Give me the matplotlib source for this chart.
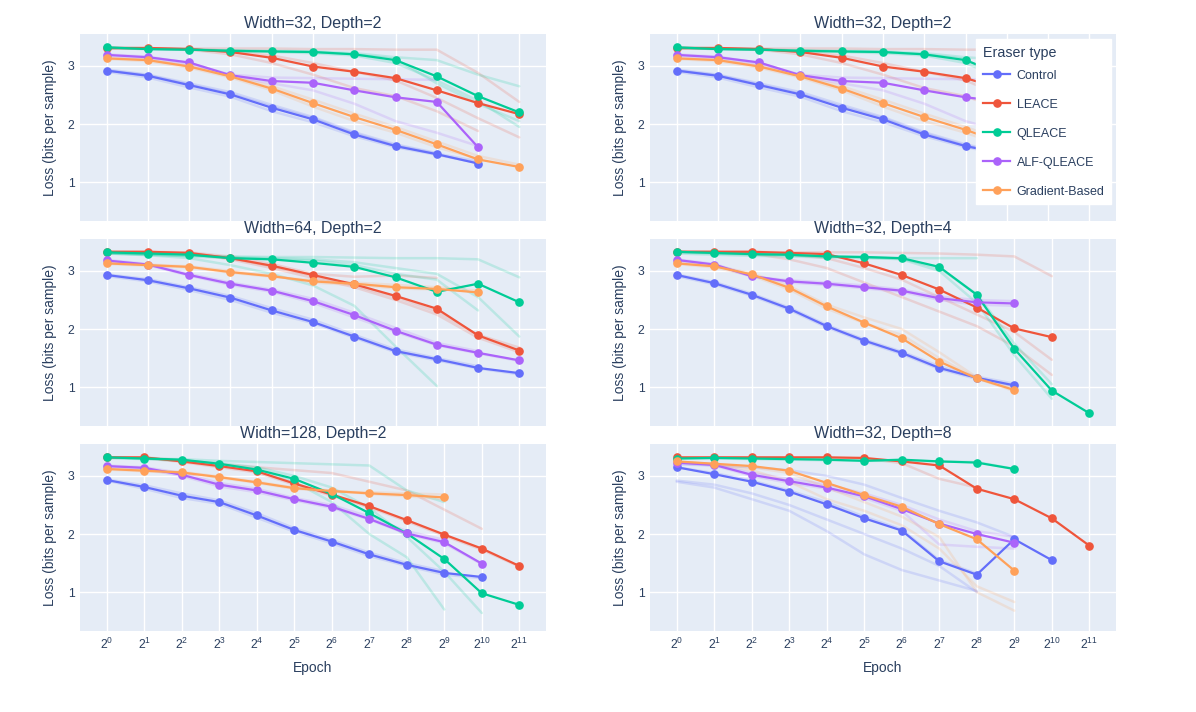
import numpy as np
import matplotlib
matplotlib.use("Agg")
import matplotlib.pyplot as plt
from matplotlib.lines import Line2D

plt.rcParams['font.family'] = ['Liberation Sans', 'DejaVu Sans']
plt.rcParams['mathtext.fontset'] = 'custom'
plt.rcParams['mathtext.rm'] = 'Liberation Sans'

# eraser types and plotly default colours
eraser_types = ['Control', 'LEACE', 'QLEACE', 'ALF-QLEACE', 'Gradient-Based']
colors = ['#636efa', '#EF553B', '#00cc96', '#ab63fa', '#FFA15A']

# ---- panel A: Width=32, Depth=2 (mean curves, index = log2 epoch) ----
a_control = [2.92, 2.83, 2.67, 2.51, 2.28, 2.08, 1.82, 1.62, 1.48, 1.32]
a_leace = [3.31, 3.31, 3.29, 3.24, 3.14, 2.99, 2.90, 2.79, 2.58, 2.36, 2.17]
a_qleace = [3.32, 3.29, 3.28, 3.26, 3.25, 3.24, 3.20, 3.10, 2.82, 2.48, 2.20]
a_alf = [3.19, 3.15, 3.06, 2.84, 2.74, 2.71, 2.58, 2.46, 2.38, 1.60]
a_grad = [3.13, 3.10, 2.99, 2.82, 2.61, 2.36, 2.12, 1.90, 1.65, 1.39, 1.26]
# individual runs (faint)
a_control_runs = [[2.90, 2.80, 2.63, 2.47, 2.22, 2.03, 1.79, 1.60, 1.47, 1.33],
                  [2.94, 2.85, 2.70, 2.55, 2.33, 2.12, 1.86, 1.65, 1.50],
                  [2.92, 2.84, 2.68, 2.52, 2.30, 2.10, 1.84, 1.63, 1.49, 1.36]]
a_leace_runs = [[3.30, 3.30, 3.30, 3.30, 3.30, 3.29, 3.29, 3.28, 3.28, 2.88, 2.38],
                [3.30, 3.30, 3.29, 3.25, 3.18, 3.05, 2.90, 2.75, 2.45, 2.10, 1.77],
                [3.31, 3.30, 3.28, 3.20, 3.05, 2.85, 2.62, 2.48, 2.22, 1.88]]
a_qleace_runs = [[3.31, 3.29, 3.28, 3.27, 3.26, 3.25, 3.22, 3.15, 3.10, 2.85, 2.65],
                 [3.32, 3.30, 3.29, 3.26, 3.24, 3.22, 3.18, 3.05, 2.75, 2.40, 1.95],
                 [3.31, 3.29, 3.28, 3.26, 3.25, 3.24, 3.20, 3.12, 2.70, 2.35, 2.05]]
a_alf_runs = [[3.20, 3.16, 3.05, 2.85, 2.80, 2.79, 2.78, 2.77, 2.76],
              [3.18, 3.12, 3.02, 2.82, 2.70, 2.58, 2.35, 2.05, 1.85, 1.62]]
a_grad_runs = [[3.12, 3.08, 2.97, 2.80, 2.58, 2.30, 2.05, 1.85, 1.60, 1.40],
               [3.14, 3.11, 3.00, 2.84, 2.65, 2.42, 2.18, 1.95, 1.70, 1.45, 1.30]]

# ---- panel B: Width=64, Depth=2 ----
b_control = [2.93, 2.84, 2.70, 2.54, 2.32, 2.12, 1.87, 1.62, 1.48, 1.33, 1.24]
b_leace = [3.33, 3.33, 3.31, 3.22, 3.09, 2.93, 2.77, 2.57, 2.35, 1.89, 1.63]
b_qleace = [3.32, 3.30, 3.28, 3.22, 3.20, 3.14, 3.07, 2.89, 2.64, 2.78, 2.46]
b_alf = [3.18, 3.11, 2.93, 2.78, 2.66, 2.48, 2.24, 1.97, 1.73, 1.59, 1.46]
b_grad = [3.13, 3.10, 3.07, 2.98, 2.91, 2.82, 2.78, 2.72, 2.69, 2.63]
b_control_runs = [[2.91, 2.82, 2.67, 2.50, 2.28, 2.10, 1.85, 1.60, 1.46, 1.32, 1.22],
                  [2.94, 2.86, 2.72, 2.57, 2.36, 2.16, 1.90, 1.65, 1.50, 1.36]]
b_leace_runs = [[3.33, 3.33, 3.32, 3.25, 3.12, 2.95, 2.90, 2.92, 2.88],
                [3.32, 3.32, 3.30, 3.20, 3.05, 2.88, 2.72, 2.50, 2.25, 1.85, 1.60],
                [3.33, 3.32, 3.31, 3.22, 3.08, 2.92, 2.75, 2.55, 2.30, 1.90, 1.68]]
b_qleace_runs = [[3.30, 3.28, 3.26, 3.25, 3.24, 3.24, 3.23, 3.22, 3.22, 3.20, 2.89],
                 [3.31, 3.29, 3.27, 3.24, 3.22, 3.20, 3.15, 3.05, 2.95, 2.55, 1.87],
                 [3.30, 3.27, 3.22, 3.10, 2.95, 2.75, 2.40, 1.70, 1.02],
                 [3.31, 3.28, 3.25, 3.22, 3.20, 3.18, 3.10, 2.95, 2.85, 2.32]]
b_alf_runs = [[3.16, 3.10, 2.92, 2.76, 2.64, 2.45, 2.20, 1.95, 1.72, 1.58, 1.45],
              [3.19, 3.12, 2.95, 2.80, 2.68, 2.52, 2.28, 2.02, 1.76, 1.62]]
b_grad_runs = [[3.12, 3.09, 3.06, 2.97, 2.90, 2.84, 2.80, 2.76, 2.72, 2.66],
               [3.14, 3.11, 3.08, 3.00, 2.92, 2.80, 2.76, 2.70, 2.68]]

# ---- panel C: Width=32, Depth=4 ----
c_control = [2.93, 2.79, 2.59, 2.35, 2.05, 1.80, 1.59, 1.33, 1.16, 1.03]
c_leace = [3.33, 3.33, 3.33, 3.31, 3.29, 3.13, 2.93, 2.68, 2.37, 2.01, 1.86]
c_qleace = [3.33, 3.31, 3.29, 3.28, 3.25, 3.24, 3.22, 3.07, 2.59, 1.66, 0.94, 0.55]
c_alf = [3.19, 3.11, 2.91, 2.82, 2.78, 2.72, 2.66, 2.53, 2.46, 2.44]
c_grad = [3.13, 3.08, 2.94, 2.71, 2.39, 2.11, 1.84, 1.44, 1.15, 0.95]
c_control_runs = [[2.91, 2.77, 2.57, 2.33, 2.03, 1.78, 1.57, 1.31, 1.14, 1.02],
                  [2.94, 2.81, 2.61, 2.37, 2.07, 1.82, 1.61, 1.36, 1.18, 1.06]]
c_leace_runs = [[3.33, 3.33, 3.33, 3.32, 3.32, 3.32, 3.31, 3.30, 3.28, 3.25, 2.91],
                [3.33, 3.32, 3.31, 3.28, 3.22, 3.05, 2.85, 2.55, 2.25, 1.95, 1.47],
                [3.33, 3.33, 3.30, 3.20, 3.05, 2.80, 2.55, 2.30, 2.05, 1.70, 1.21]]
c_qleace_runs = [[3.30, 3.28, 3.26, 3.25, 3.23, 3.22, 3.22, 3.22, 3.22],
                 [3.32, 3.30, 3.28, 3.27, 3.25, 3.23, 3.20, 3.00, 2.45, 1.55, 0.80],
                 [3.33, 3.31, 3.29, 3.27, 3.25, 3.24, 3.21, 3.05, 2.60, 1.75, 1.05]]
c_alf_runs = [[3.18, 3.10, 2.90, 2.84, 2.80, 2.75, 2.68, 2.56, 2.50, 2.48],
              [3.20, 3.12, 2.92, 2.80, 2.76, 2.70, 2.64, 2.50, 2.42, 2.40]]
c_grad_runs = [[3.12, 3.06, 2.92, 2.68, 2.35, 2.10, 1.90, 1.50, 1.15, 0.93],
               [3.14, 3.09, 2.96, 2.74, 2.42, 2.20, 2.00, 1.60, 1.17, 0.98]]

# ---- panel D: Width=128, Depth=2 ----
d_control = [2.93, 2.81, 2.66, 2.55, 2.32, 2.07, 1.87, 1.65, 1.47, 1.33, 1.26]
d_leace = [3.32, 3.32, 3.25, 3.17, 3.08, 2.87, 2.68, 2.48, 2.24, 1.99, 1.75, 1.45]
d_qleace = [3.32, 3.30, 3.28, 3.21, 3.11, 2.95, 2.69, 2.36, 2.01, 1.57, 0.98, 0.78]
d_alf = [3.17, 3.14, 3.02, 2.85, 2.75, 2.60, 2.47, 2.26, 2.01, 1.86, 1.49]
d_grad = [3.12, 3.09, 3.06, 2.98, 2.89, 2.79, 2.74, 2.70, 2.67, 2.63]
d_control_runs = [[2.92, 2.78, 2.62, 2.52, 2.28, 2.04, 1.84, 1.62, 1.45, 1.30, 1.24],
                  [2.94, 2.84, 2.70, 2.58, 2.36, 2.10, 1.90, 1.68, 1.50, 1.36]]
d_leace_runs = [[3.32, 3.32, 3.27, 3.20, 3.15, 3.10, 3.05, 2.90, 2.75, 2.42, 2.09],
                [3.32, 3.31, 3.24, 3.15, 3.06, 2.85, 2.66, 2.46, 2.22, 1.97, 1.73, 1.44]]
d_qleace_runs = [[3.31, 3.30, 3.29, 3.26, 3.24, 3.22, 3.20, 3.18, 2.75, 2.55],
                 [3.32, 3.30, 3.27, 3.20, 3.10, 2.90, 2.55, 2.00, 1.60, 0.70],
                 [3.31, 3.29, 3.26, 3.22, 3.15, 3.00, 2.80, 2.45, 1.95, 1.35, 0.64]]
d_alf_runs = [[3.16, 3.12, 3.00, 2.82, 2.72, 2.58, 2.45, 2.25, 2.00, 1.84, 1.48],
              [3.18, 3.15, 3.05, 2.88, 2.78, 2.62, 2.50, 2.30, 2.05, 1.90]]
d_grad_runs = [[3.11, 3.08, 3.05, 2.97, 2.88, 2.78, 2.73, 2.72, 2.70, 2.68],
               [3.13, 3.10, 3.07, 2.99, 2.90, 2.80, 2.75, 2.69, 2.65, 2.60]]

# ---- panel E: Width=32, Depth=8 ----
e_control = [3.15, 3.03, 2.90, 2.73, 2.51, 2.27, 2.06, 1.53, 1.30, 1.91, 1.55]
e_leace = [3.32, 3.32, 3.32, 3.32, 3.32, 3.31, 3.25, 3.18, 2.78, 2.60, 2.27, 1.80]
e_qleace = [3.30, 3.31, 3.30, 3.29, 3.28, 3.26, 3.28, 3.25, 3.23, 3.12]
e_alf = [3.23, 3.19, 3.02, 2.91, 2.80, 2.65, 2.43, 2.18, 2.00, 1.85]
e_grad = [3.25, 3.21, 3.17, 3.09, 2.88, 2.67, 2.47, 2.17, 1.91, 1.37]
e_control_runs = [[2.92, 2.85, 2.70, 2.50, 2.25, 2.00, 1.75, 1.45, 1.00],
                  [2.90, 2.80, 2.60, 2.40, 2.05, 1.65, 1.38, 1.20, 1.02],
                  [3.15, 3.05, 2.92, 2.75, 2.55, 2.30, 2.08, 1.55, 1.32],
                  [3.20, 3.18, 3.15, 3.10, 3.00, 2.85, 2.62, 2.40, 2.20, 1.95]]
e_leace_runs = [[3.32, 3.32, 3.32, 3.31, 3.31, 3.30, 3.22, 2.95, 2.80]]
e_qleace_runs = [[3.30, 3.30, 3.29, 3.28, 3.27, 3.26, 3.26, 3.25, 3.24, 3.12]]
e_alf_runs = [[3.22, 3.18, 3.00, 2.88, 2.78, 2.62, 2.40, 1.82, 1.78, 1.75],
              [3.24, 3.20, 3.05, 2.95, 2.85, 2.70, 2.50, 2.25, 2.05, 1.95]]
e_grad_runs = [[3.25, 3.20, 3.10, 2.90, 2.60, 2.40, 2.15, 1.75, 1.10, 0.83],
               [3.24, 3.20, 3.15, 3.05, 2.80, 2.55, 2.30, 1.95, 1.00, 0.68]]

panel_a = ([a_control, a_leace, a_qleace, a_alf, a_grad],
           [a_control_runs, a_leace_runs, a_qleace_runs, a_alf_runs, a_grad_runs])
panel_b = ([b_control, b_leace, b_qleace, b_alf, b_grad],
           [b_control_runs, b_leace_runs, b_qleace_runs, b_alf_runs, b_grad_runs])
panel_c = ([c_control, c_leace, c_qleace, c_alf, c_grad],
           [c_control_runs, c_leace_runs, c_qleace_runs, c_alf_runs, c_grad_runs])
panel_d = ([d_control, d_leace, d_qleace, d_alf, d_grad],
           [d_control_runs, d_leace_runs, d_qleace_runs, d_alf_runs, d_grad_runs])
panel_e = ([e_control, e_leace, e_qleace, e_alf, e_grad],
           [e_control_runs, e_leace_runs, e_qleace_runs, e_alf_runs, e_grad_runs])

titles = ['Width=32, Depth=2', 'Width=32, Depth=2',
          'Width=64, Depth=2', 'Width=32, Depth=4',
          'Width=128, Depth=2', 'Width=32, Depth=8']
panels = [panel_a, panel_a, panel_b, panel_c, panel_d, panel_e]

text_color = '#2a3f5f'
fig = plt.figure(figsize=(11.96, 7.12), dpi=100)
W, H = 1196, 712
col_x = [80, 650]
row_top = [34, 239, 444]
ax_w, ax_h = 466, 187

for k in range(6):
    r, c = k // 2, k % 2
    ax = fig.add_axes([col_x[c] / W, 1 - (row_top[r] + ax_h) / H, ax_w / W, ax_h / H])
    ax.set_facecolor('#E5ECF6')
    means, runs = panels[k]
    n_max = max(len(m) for m in means)
    # faint individual runs first
    for ci, group in enumerate(runs):
        for run in group:
            ep = 2.0 ** np.arange(len(run))
            ax.plot(ep, run, color=colors[ci], lw=1.8, alpha=0.18, zorder=2,
                    solid_capstyle='round')
    for ci, m in enumerate(means):
        ep = 2.0 ** np.arange(len(m))
        ax.plot(ep, m, color=colors[ci], lw=1.6, marker='o', ms=5.2, zorder=3 + ci)
    ax.set_xscale('log', base=2)
    ax.margins(x=0.0647)
    ax.set_ylim(0.33, 3.55)
    ticks = 2.0 ** np.arange(n_max)
    ax.set_xticks(ticks)
    ax.minorticks_off()
    ax.set_yticks([1, 2, 3])
    if r == 2:
        ax.set_xticklabels([r'$\mathdefault{2^{%d}}$' % i for i in range(n_max)])
        ax.set_xlabel('Epoch', fontsize=10, color=text_color, labelpad=7)
    else:
        ax.set_xticklabels([])
    ax.grid(True, color='white', lw=1)
    ax.set_axisbelow(True)
    for s in ax.spines.values():
        s.set_visible(False)
    ax.tick_params(length=0, labelsize=8.8, colors=text_color, pad=4)
    ax.set_ylabel('Loss (bits per sample)', fontsize=10, color=text_color)
    ax.yaxis.set_label_coords(-0.05, 0.5)
    ax.set_title(titles[k], fontsize=11.5, color=text_color, pad=4)
    if k == 1:
        handles = [Line2D([], [], color=col, lw=1.6, marker='o', ms=5.2) for col in colors]
        leg = ax.legend(handles, eraser_types, title='Eraser type', loc='upper left',
                        bbox_to_anchor=((976 - 650) / ax_w, 1 - (39 - 34) / ax_h),
                        fontsize=9, title_fontsize=10.3, frameon=True, fancybox=False,
                        edgecolor='white', facecolor='white', framealpha=1,
                        labelspacing=1.36, handlelength=2.2, handletextpad=0.5,
                        borderaxespad=0, borderpad=0.55)
        leg._legend_box.align = 'left'
        leg._legend_box.sep = 7
        for t in leg.get_texts():
            t.set_color(text_color)
        leg.get_title().set_color(text_color)
        leg.set_zorder(20)

fig.savefig('out.png', dpi=100)
